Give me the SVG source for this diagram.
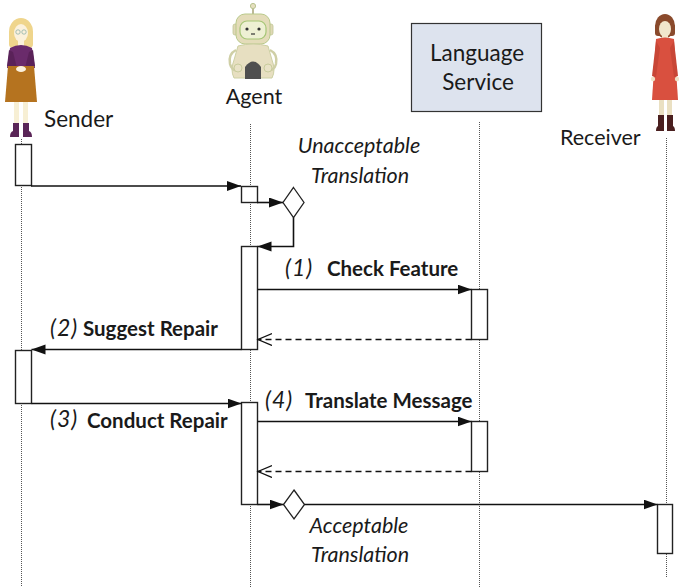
<svg xmlns="http://www.w3.org/2000/svg" width="679" height="587" viewBox="0 0 679 587">
  <style>
    text { font-family: Lato, "Open Sans", "Liberation Sans", sans-serif; fill: #1a1a1a; }
    .name { font-size: 21.5px; }
    .box { font-size: 22.5px; }
    .lbl { font-size: 20.5px; font-weight: bold; }
    .num { font-size: 23px; font-style: italic; letter-spacing: 1px; }
    .note { font-size: 21.5px; font-style: italic; }
    .life { stroke: #555; stroke-width: 1; stroke-dasharray: 1 1; fill: none; }
    .act { fill: #fff; stroke: #222; stroke-width: 1.4; }
    .msg { stroke: #111; stroke-width: 1.6; fill: none; }
    .ret { stroke: #111; stroke-width: 1.4; fill: none; stroke-dasharray: 6 4; }
    .dec { fill: #fff; stroke: #222; stroke-width: 1.3; }
  </style>
  <defs>
    <marker id="solid" markerUnits="userSpaceOnUse" markerWidth="15" markerHeight="11" refX="14" refY="5" orient="auto">
      <path d="M0,0 L14,5 L0,10 Z" fill="#111"/>
    </marker>
    <marker id="open" markerUnits="userSpaceOnUse" markerWidth="16" markerHeight="14" refX="14" refY="6" orient="auto">
      <path d="M0,0 L14,6 L0,12" fill="none" stroke="#111" stroke-width="1.3" stroke-dasharray="none"/>
    </marker>
  </defs>

  <rect width="679" height="587" fill="#fff"/>

  <!-- lifelines -->
  <g id="lifelines">
    <line class="life" x1="21.5" y1="139" x2="21.5" y2="587"/>
    <line class="life" x1="250.5" y1="124" x2="250.5" y2="587"/>
    <line class="life" x1="479.5" y1="122" x2="479.5" y2="587"/>
    <line class="life" x1="666.5" y1="138" x2="666.5" y2="577"/>
  </g>

  <!-- Sender -->
  <g id="sender">
    <ellipse cx="21" cy="32" rx="12" ry="14" fill="#efd58c"/>
    <rect x="9" y="30" width="24" height="18" rx="4" fill="#efd58c"/>
    <ellipse cx="21" cy="33" rx="7" ry="9" fill="#fbf1dc"/>
    <circle cx="18" cy="32" r="2.2" fill="none" stroke="#8fb3a8" stroke-width="0.8"/>
    <circle cx="24" cy="32" r="2.2" fill="none" stroke="#8fb3a8" stroke-width="0.8"/>
    <rect x="18" y="40" width="6" height="6" fill="#fbf1dc"/>
    <path d="M10,48 Q21,42 32,48 L35,68 L7,68 Z" fill="#6a2b6b"/>
    <path d="M9,50 L7,66 Q12,70 17,68 L13,52 Z" fill="#5a2259"/>
    <path d="M33,50 L35,66 Q30,70 25,68 L29,52 Z" fill="#5a2259"/>
    <path d="M8,66 L34,66 L37,102 L5,102 Z" fill="#b5731f"/>
    <ellipse cx="21" cy="69" rx="5" ry="3" fill="#fbf1dc"/>
    <rect x="14" y="102" width="5" height="22" fill="#f7efd4"/>
    <rect x="23" y="102" width="5" height="22" fill="#f7efd4"/>
    <path d="M13,123 L19,123 L19,137 L10,137 Q10,132 13,131 Z" fill="#5a2557"/>
    <path d="M23,123 L29,123 L29,131 Q32,132 32,137 L23,137 Z" fill="#5a2557"/>
    <text class="name" x="44" y="127" style="font-size:22.5px">Sender</text>
  </g>

  <!-- Agent -->
  <g id="agent">
    <line x1="253" y1="8" x2="253" y2="14" stroke="#bdb997" stroke-width="2"/>
    <circle cx="253" cy="6" r="2.6" fill="#e6dfbf" stroke="#b9c38f" stroke-width="1"/>
    <rect x="233" y="24" width="5" height="11" rx="2" fill="#e0d8b6" stroke="#bfc794" stroke-width="0.8"/>
    <rect x="268" y="24" width="5" height="11" rx="2" fill="#e0d8b6" stroke="#bfc794" stroke-width="0.8"/>
    <rect x="236" y="14" width="34" height="30" rx="9" fill="#e4dcb9" stroke="#b9c98a" stroke-width="1"/>
    <rect x="240" y="21" width="26" height="18" rx="7" fill="#eef0d3" stroke="#a6c676" stroke-width="1.2"/>
    <circle cx="247" cy="29" r="1.6" fill="#333"/>
    <circle cx="259" cy="29" r="1.6" fill="#333"/>
    <line x1="251" y1="34" x2="255" y2="34" stroke="#333" stroke-width="1.2"/>
    <path d="M238,46 Q253,42 268,46 L272,60 Q276,70 272,78 L234,78 Q230,70 234,60 Z" fill="#e7dfc1" stroke="#cdd0a3" stroke-width="1"/>
    <path d="M236,50 Q228,54 230,64 Q232,72 240,70" fill="none" stroke="#cfcfa6" stroke-width="2.5"/>
    <path d="M270,50 Q278,54 276,64 Q274,72 266,70" fill="none" stroke="#cfcfa6" stroke-width="2.5"/>
    <circle cx="238" cy="68" r="4" fill="#e9e2c6" stroke="#c8cc9c" stroke-width="1"/>
    <circle cx="268" cy="68" r="4" fill="#e9e2c6" stroke="#c8cc9c" stroke-width="1"/>
    <path d="M245,79 V67 Q253,56 261,67 V79 Z" fill="#4f4f4f"/>
    <text class="name" x="254" y="104" text-anchor="middle">Agent</text>
  </g>

  <!-- Language Service -->
  <g id="language-service">
    <rect x="411.5" y="23.5" width="130" height="88" fill="#dde3ee" stroke="#333" stroke-width="1.2"/>
    <text class="box" x="477" y="61" text-anchor="middle">Language</text>
    <text class="box" x="478" y="90" text-anchor="middle">Service</text>
  </g>

  <!-- Receiver -->
  <g id="receiver">
    <ellipse cx="665" cy="26" rx="10" ry="12" fill="#8a4a2c"/>
    <rect x="655" y="24" width="20" height="12" rx="3" fill="#8a4a2c"/>
    <ellipse cx="665" cy="29" rx="6" ry="8" fill="#f1e6cc"/>
    <rect x="662" y="35" width="6" height="5" fill="#f1e6cc"/>
    <path d="M656,39 Q665,36 674,39 L678,100 L652,100 Z" fill="#d9503f"/>
    <path d="M656,41 L652,76 L656,77 L660,48 Z" fill="#c84636"/>
    <path d="M674,41 L678,76 L674,77 L670,48 Z" fill="#c84636"/>
    <circle cx="653" cy="79" r="2.2" fill="#efe3c8"/>
    <circle cx="677" cy="79" r="2.2" fill="#efe3c8"/>
    <rect x="659" y="100" width="5" height="16" fill="#eae0c2"/>
    <rect x="667" y="100" width="5" height="16" fill="#eae0c2"/>
    <path d="M658,115 L664,115 L664,131 L656,131 Q656,127 658,126 Z" fill="#4a1f1f"/>
    <path d="M667,115 L673,115 L673,126 Q675,127 675,131 L667,131 Z" fill="#4a1f1f"/>
    <text class="name" x="560" y="145">Receiver</text>
  </g>

  <!-- activation bars -->
  <g id="activations">
    <rect class="act" x="15.5" y="144.5" width="16" height="41"/>
    <rect class="act" x="241.5" y="186.5" width="16" height="16"/>
    <rect class="act" x="241.5" y="246.5" width="16" height="103"/>
    <rect class="act" x="471.5" y="289.5" width="16" height="50"/>
    <rect class="act" x="15.5" y="350.5" width="16" height="53"/>
    <rect class="act" x="241.5" y="402.5" width="16" height="102"/>
    <rect class="act" x="471.5" y="421.5" width="16" height="50"/>
    <rect class="act" x="657.5" y="504.5" width="15" height="49"/>
  </g>

  <!-- decision diamonds -->
  <g id="decision-unacceptable">
    <path class="dec" d="M293.5,187.5 L304,202.5 L293.5,217.5 L283,202.5 Z"/>
    <text class="note" x="359" y="153" text-anchor="middle">Unacceptable</text>
    <text class="note" x="360" y="183" text-anchor="middle">Translation</text>
  </g>
  <g id="decision-acceptable">
    <path class="dec" d="M294,490 L304.5,504.5 L294,519 L283.5,504.5 Z"/>
    <text class="note" x="359" y="533" text-anchor="middle">Acceptable</text>
    <text class="note" x="360" y="562" text-anchor="middle">Translation</text>
  </g>

  <!-- messages -->
  <g id="connectors">
    <path class="msg" d="M31,186 H241" marker-end="url(#solid)"/>
    <path class="msg" d="M257,202.5 H283" marker-end="url(#solid)"/>
    <path class="msg" d="M293.5,217.5 V246.5 H257.5" marker-end="url(#solid)"/>
    <path class="msg" d="M257.5,289.5 H471.5" marker-end="url(#solid)"/>
    <path class="ret" d="M471.5,339.5 H258" marker-end="url(#open)"/>
    <path class="msg" d="M241.5,349.5 H31.5" marker-end="url(#solid)"/>
    <path class="msg" d="M31.5,403.5 H241.5" marker-end="url(#solid)"/>
    <path class="msg" d="M257.5,421.5 H471.5" marker-end="url(#solid)"/>
    <path class="ret" d="M471.5,471.5 H258" marker-end="url(#open)"/>
    <path class="msg" d="M257.5,504.5 H283.5" marker-end="url(#solid)"/>
    <path class="msg" d="M304.5,504.5 H657.5" marker-end="url(#solid)"/>
  </g>

  <!-- message labels -->
  <g id="labels">
    <text class="num" x="285" y="276">(1)</text>
    <text class="lbl" x="327" y="276">Check Feature</text>
    <text class="num" x="50" y="336">(2)</text>
    <text class="lbl" x="83" y="336">Suggest Repair</text>
    <text class="num" x="50" y="427">(3)</text>
    <text class="lbl" x="87" y="428">Conduct Repair</text>
    <text class="num" x="265" y="408">(4)</text>
    <text class="lbl" x="305" y="408">Translate Message</text>
  </g>
</svg>
